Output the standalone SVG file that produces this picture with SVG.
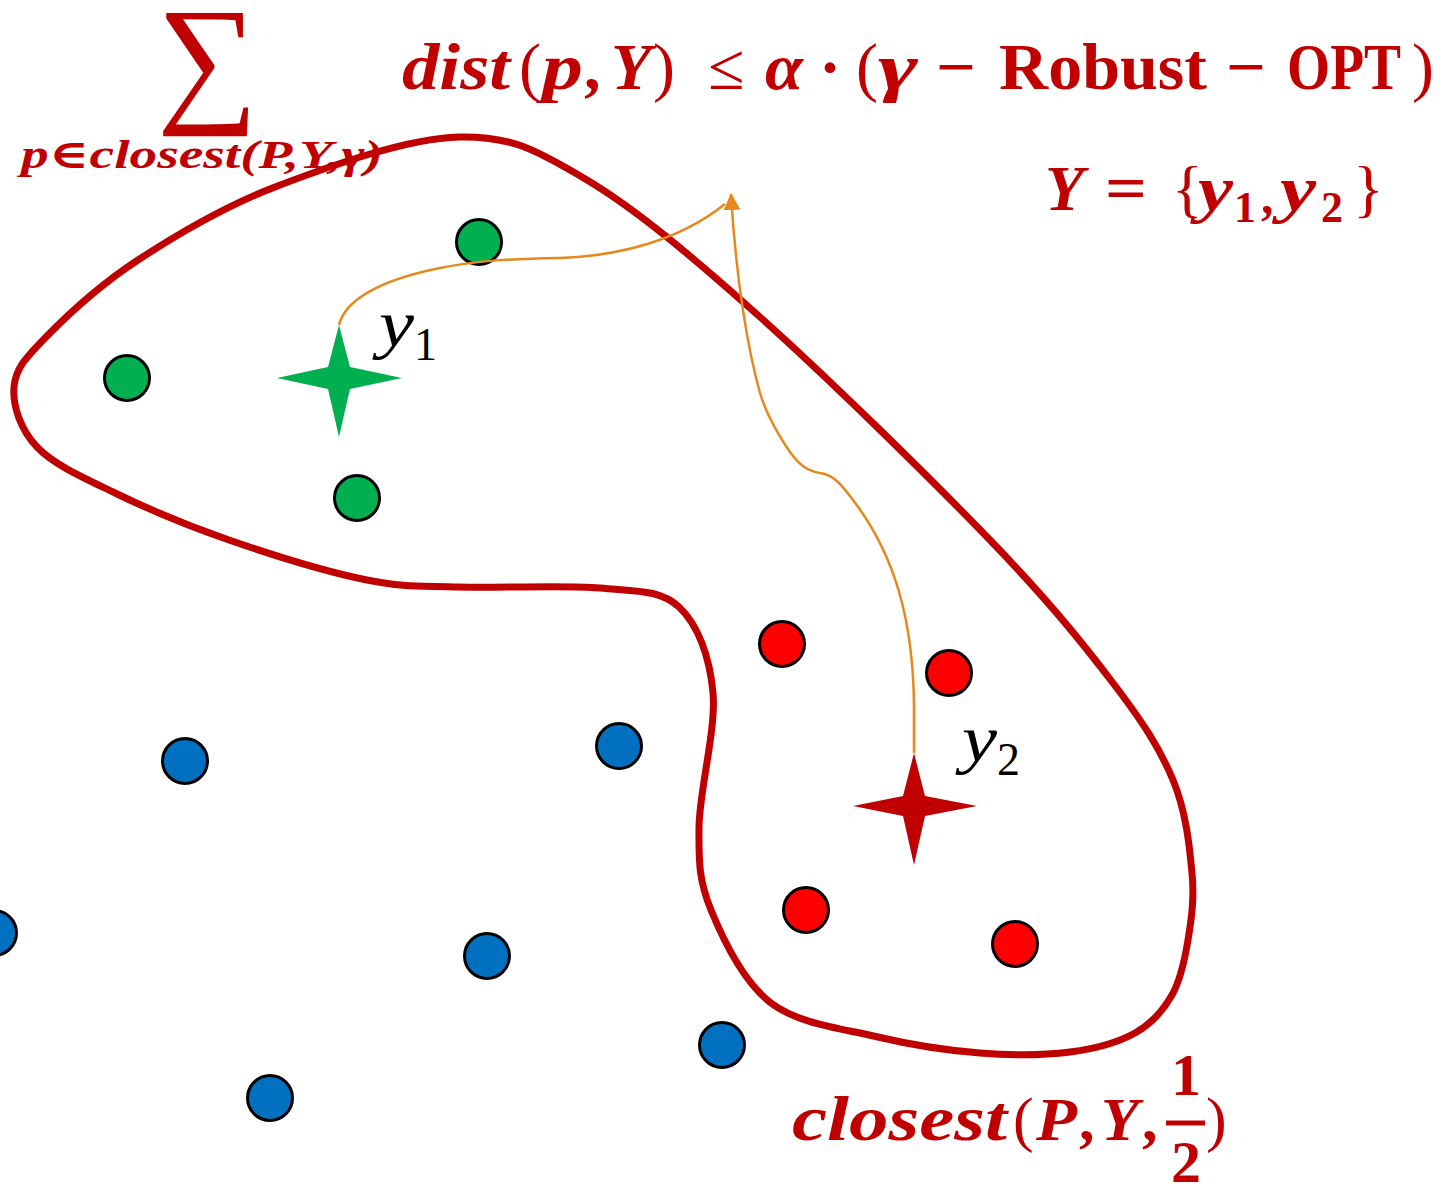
<svg xmlns="http://www.w3.org/2000/svg" width="1442" height="1186" viewBox="0 0 1442 1186">
<style>
.r{fill:#C00000;font-family:"Liberation Serif","DejaVu Serif",serif}
.k{fill:#000;font-family:"Liberation Serif","DejaVu Serif",serif}
.bi{font-weight:bold;font-style:italic}
.b{font-weight:bold}
.i{font-style:italic}
.pt{stroke:#000;stroke-width:3}
.g{fill:#00B050}
.bl{fill:#0070C0}
.rd{fill:#FF0000}
.conn{fill:none;stroke:#E5891E;stroke-width:2.5}
</style>
<defs>
<marker id="ah" markerUnits="userSpaceOnUse" markerWidth="20" markerHeight="20" viewBox="0 0 20 20" refX="16" refY="10" orient="auto">
<path d="M0,1.5 L17,10 L0,18.5 Z" fill="#E5891E"/>
</marker>
</defs>
<rect width="1442" height="1186" fill="#fff"/>

<g id="region-outline">
<path fill="none" stroke="#C00000" stroke-width="7" stroke-linejoin="round" d="M459,137 C511,135.8 536.8,150 587,180 C637.2,210 692.8,257 760,317 C827.2,377 931.2,479 990,540 C1048.8,601 1082.5,643 1113,683 C1143.5,723 1159.8,748.3 1173,780 C1186.2,811.7 1189.5,846.3 1192,873 C1194.5,899.7 1191.3,919.7 1188,940 C1184.7,960.3 1180.8,979.5 1172,995 C1163.2,1010.5 1152,1023.5 1135,1033 C1118,1042.5 1095.8,1048.7 1070,1052 C1044.2,1055.3 1012,1055.5 980,1053 C948,1050.5 912.8,1045.3 878,1037 C843.2,1028.7 798.8,1024.2 771,1003 C743.2,981.8 723,939.3 711,910 C699,880.7 698.7,863.2 699,827 C699.3,790.8 716.3,729.7 713,693 C709.7,656.3 697.8,624.5 679,607 C660.2,589.5 636.7,591.3 600,588 C563.3,584.7 497.8,588.3 459,587 C420.2,585.7 405.3,587.8 367,580 C328.7,572.2 271,554.5 229,540 C187,525.5 147,508.5 115,493 C83,477.5 53.8,464.7 37,447 C20.2,429.3 12.5,405.3 14,387 C15.5,368.7 25.3,358.2 46,337 C66.7,315.8 99.8,285 138,260 C176.2,235 221.5,207.5 275,187 C328.5,166.5 407,138.2 459,137 Z"/>
</g>

<g id="points-green">
<circle class="g pt" cx="479" cy="242" r="22.5"/>
<circle class="g pt" cx="127" cy="378" r="22.5"/>
<circle class="g pt" cx="357" cy="498" r="22.5"/>
</g>
<g id="points-red">
<circle class="rd pt" cx="782" cy="644" r="22.5"/>
<circle class="rd pt" cx="949" cy="673" r="22.5"/>
<circle class="rd pt" cx="806" cy="910" r="22.5"/>
<circle class="rd pt" cx="1015" cy="944" r="22.5"/>
</g>
<g id="points-blue">
<circle class="bl pt" cx="185" cy="761" r="22.5"/>
<circle class="bl pt" cx="619" cy="746" r="22.5"/>
<circle class="bl pt" cx="-6" cy="933" r="22.5"/>
<circle class="bl pt" cx="487" cy="956" r="22.5"/>
<circle class="bl pt" cx="722" cy="1045" r="22.5"/>
<circle class="bl pt" cx="270" cy="1098" r="22.5"/>
</g>

<g id="connectors">
<path class="conn" d="M339,325 C345,300 380,280 440,268 C480,260 510,259 560,258 C620,256 680,240 725,204"/>
<path class="conn" marker-end="url(#ah)" d="M914,753 L914,705 C913,620 895,555 853,500 C843,487 835,475 820,473 C808,471 800,466 790,452 C775,430 765,410 760,393 C748,350 736,280 731,194"/>
</g>

<g id="center-y1">
<path fill="#00B050" d="M339,325 L350,367 L402,378 L350,389 L339,437 L328,389 L277,378 L328,367 Z"/>
<text class="k i" x="379" y="346" font-size="66" textLength="35" lengthAdjust="spacingAndGlyphs">y</text>
<text class="k" x="414" y="360" font-size="46">1</text>
</g>
<g id="center-y2">
<path fill="#C00000" d="M914,753 L925,796 L977,806 L925,816 L914,865 L903,816 L853,806 L903,796 Z"/>
<text class="k i" x="962" y="761" font-size="66" textLength="35" lengthAdjust="spacingAndGlyphs">y</text>
<text class="k" x="997" y="775" font-size="46">2</text>
</g>

<g id="label-sum">
<text class="r" x="157" y="106" font-size="142">∑</text>
<text class="r bi" x="21" y="168" font-size="40" textLength="362" lengthAdjust="spacingAndGlyphs">p∈closest(P,Y,γ)</text>
</g>

<g id="label-formula" font-size="66">
<text class="r bi" x="402" y="89" textLength="108" lengthAdjust="spacingAndGlyphs">dist</text>
<text class="r" x="519" y="89">(</text>
<text class="r bi" x="542" y="89" textLength="41" lengthAdjust="spacingAndGlyphs">p</text>
<text class="r b" x="584" y="89">,</text>
<text class="r bi" x="611" y="89">Y</text>
<text class="r" x="653" y="89">)</text>
<text class="r" x="708" y="89">≤</text>
<text class="r bi" x="765" y="89" textLength="38" lengthAdjust="spacingAndGlyphs">α</text>
<text class="r b" x="830" y="89" text-anchor="middle">·</text>
<text class="r" x="856" y="89">(</text>
<text class="r bi" x="878" y="89" textLength="40" lengthAdjust="spacingAndGlyphs">γ</text>
<text class="r b" x="936" y="89" textLength="40" lengthAdjust="spacingAndGlyphs">−</text>
<text class="r b" x="999" y="89" textLength="208" lengthAdjust="spacingAndGlyphs">Robust</text>
<text class="r b" x="1226" y="89" textLength="40" lengthAdjust="spacingAndGlyphs">−</text>
<text class="r b" x="1287" y="89" textLength="114" lengthAdjust="spacingAndGlyphs">OPT</text>
<text class="r" x="1412" y="89">)</text>
</g>

<g id="label-Y">
<text class="r bi" x="1045" y="210" font-size="64">Y</text>
<text class="r b" x="1105" y="210" font-size="64" textLength="42" lengthAdjust="spacingAndGlyphs">=</text>
<text class="r" x="1172" y="210" font-size="64">{</text>
<text class="r bi" x="1198" y="210" font-size="64" textLength="35" lengthAdjust="spacingAndGlyphs">y</text>
<text class="r b" x="1234" y="222" font-size="44">1</text>
<text class="r b" x="1261" y="213" font-size="50">,</text>
<text class="r bi" x="1280" y="210" font-size="64" textLength="36" lengthAdjust="spacingAndGlyphs">y</text>
<text class="r b" x="1321" y="222" font-size="44">2</text>
<text class="r" x="1353" y="210" font-size="64">}</text>
</g>

<g id="label-closest">
<text class="r bi" x="792" y="1140" font-size="64" textLength="215" lengthAdjust="spacingAndGlyphs">closest</text>
<text class="r" x="1013" y="1140" font-size="62">(</text>
<text class="r bi" x="1036" y="1140" font-size="62" textLength="41" lengthAdjust="spacingAndGlyphs">P</text>
<text class="r b" x="1079" y="1140" font-size="62">,</text>
<text class="r bi" x="1101" y="1140" font-size="62">Y</text>
<text class="r b" x="1142" y="1140" font-size="62">,</text>
<text class="r b" x="1186" y="1095" font-size="60" text-anchor="middle">1</text>
<line x1="1166" y1="1123" x2="1205" y2="1123" stroke="#C00000" stroke-width="5"/>
<text class="r b" x="1186" y="1182" font-size="60" text-anchor="middle">2</text>
<text class="r" x="1206" y="1140" font-size="62">)</text>
</g>
</svg>
